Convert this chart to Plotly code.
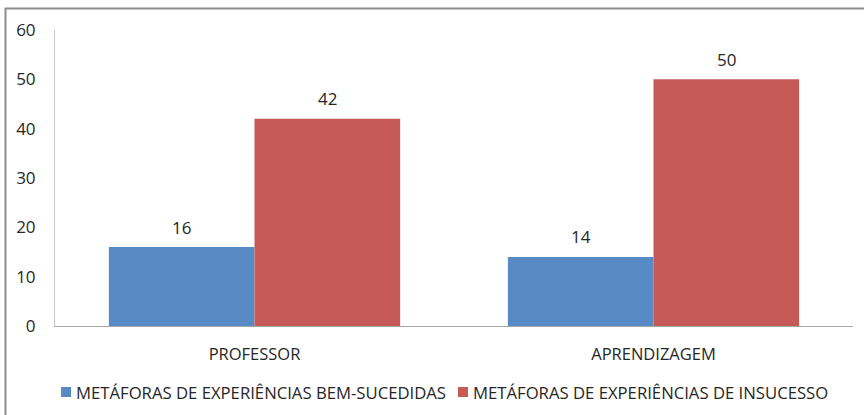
import plotly.graph_objects as go

categories = ["PROFESSOR", "APRENDIZAGEM"]
series_names = ["METÁFORAS DE EXPERIÊNCIAS BEM-SUCEDIDAS", "METÁFORAS DE EXPERIÊNCIAS DE INSUCESSO"]
bem_sucedidas = [16, 14]
insucesso = [42, 50]
y_ticks = [0, 10, 20, 30, 40, 50, 60]
colors = ["#588AC6", "#C55A57"]

FONT = "Open Sans"
TXT = "#262626"
W, H = 864, 415
ml, mr, mt, mb = 55, 11, 30, 89
pw, ph = W - ml - mr, H - mt - mb
BARGAP = 0.27

def px_x(p):
    return (p - ml) / pw

def px_y(p):
    return 1 - (p - mt) / ph

fig = go.Figure()
series = [bem_sucedidas, insucesso]
for name, vals, col in zip(series_names, series, colors):
    fig.add_trace(go.Bar(x=categories, y=vals, name=name,
                         marker=dict(color=col, line=dict(width=0)),
                         showlegend=False))

# data labels above bars
bar_w = pw / len(categories) * (1 - BARGAP) / len(series)
annotations = []
for si, vals in enumerate(series):
    offset = (si - (len(series) - 1) / 2) * bar_w
    for cat, v in zip(categories, vals):
        annotations.append(dict(x=cat, y=v, xref="x", yref="y", text=str(v),
                                showarrow=False, xshift=offset, yshift=20,
                                yanchor="middle", xanchor="center",
                                font=dict(family=FONT, size=17, color=TXT)))

# legend (drawn manually to match the reference layout)
legend_text_x = [75, 472]
shapes = [
    dict(type="line", xref="paper", yref="paper", x0=px_x(5), x1=px_x(870),
         y0=px_y(8.5), y1=px_y(8.5), line=dict(color="#8C8C8C", width=2)),
    dict(type="line", xref="paper", yref="paper", x0=px_x(5.5), x1=px_x(5.5),
         y0=px_y(8), y1=px_y(430), line=dict(color="#8C8C8C", width=2)),
]
for name, col, tx in zip(series_names, colors, legend_text_x):
    shapes.append(dict(type="rect", xref="paper", yref="paper",
                       x0=px_x(tx - 14), x1=px_x(tx - 4), y0=px_y(387), y1=px_y(397),
                       fillcolor=col, line=dict(width=0)))
    annotations.append(dict(x=px_x(tx - 1), y=px_y(392), xref="paper", yref="paper",
                            text=name, showarrow=False, xanchor="left", yanchor="middle",
                            font=dict(family=FONT, size=16.7, color=TXT)))

fig.update_layout(
    width=W, height=H,
    margin=dict(l=ml, r=mr, t=mt, b=mb, autoexpand=False),
    paper_bgcolor="white", plot_bgcolor="white",
    barmode="group", bargap=BARGAP, bargroupgap=0,
    font=dict(family=FONT, size=16, color=TXT),
    showlegend=False,
    shapes=shapes,
    annotations=annotations,
)
fig.update_xaxes(showline=True, linecolor="#A6A6A6", linewidth=1, ticks="",
                 showgrid=False, tickfont=dict(family=FONT, size=16.5, color=TXT),
                 ticklabelstandoff=13, automargin=False)
fig.update_yaxes(range=[0, 60], tickvals=y_ticks, showline=True, linecolor="#C8C8C8",
                 linewidth=1, showgrid=False, zeroline=False, ticks="",
                 tickfont=dict(family=FONT, size=17, color=TXT),
                 ticklabelstandoff=15, automargin=False)

fig.write_html("out.html", config={"displayModeBar": False},
               post_script="document.body.style.margin='0';")
